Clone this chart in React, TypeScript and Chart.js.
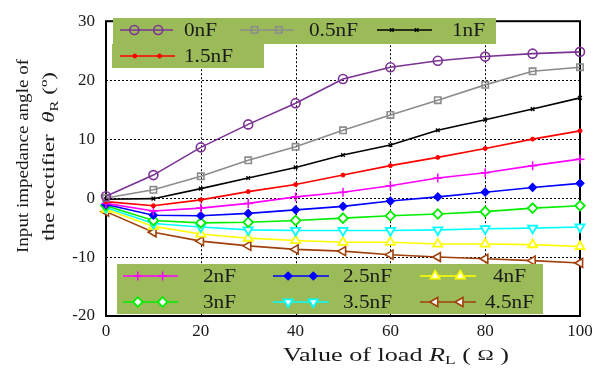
import React, { useEffect, useRef } from "react";
import { Chart, registerables } from "chart.js";
import { drawPoint } from "chart.js/helpers";

Chart.register(...registerables);

// Load resistance R_L (Ω)
const loadValues = [0, 10, 20, 30, 40, 50, 60, 70, 80, 90, 100];

// Input impedance angle θ_R (°) for each compensation capacitance
const angle0nF = [0.3, 3.9, 8.6, 12.5, 16.1, 20.2, 22.2, 23.3, 24.0, 24.5, 24.8];
const angle05nF = [0.0, 1.4, 3.7, 6.4, 8.7, 11.5, 14.1, 16.6, 19.2, 21.5, 22.2];
const angle1nF = [-0.2, -0.1, 1.6, 3.4, 5.2, 7.3, 9.0, 11.5, 13.3, 15.1, 17.0];
const angle15nF = [-0.6, -1.3, -0.3, 1.1, 2.3, 3.9, 5.5, 6.9, 8.4, 10.0, 11.4];
const angle2nF = [-0.9, -2.2, -1.7, -0.9, 0.2, 1.0, 2.1, 3.4, 4.3, 5.5, 6.6];
const angle25nF = [-1.1, -2.9, -3.0, -2.6, -2.0, -1.4, -0.5, 0.2, 1.0, 1.8, 2.5];
const angle3nF = [-1.3, -3.8, -4.2, -4.1, -3.8, -3.4, -3.0, -2.7, -2.3, -1.7, -1.3];
const angle35nF = [-1.6, -4.3, -4.9, -5.4, -5.5, -5.5, -5.5, -5.4, -5.2, -5.1, -4.9];
const angle4nF = [-1.9, -4.8, -6.1, -6.8, -7.2, -7.5, -7.5, -7.8, -7.8, -7.9, -8.2];
const angle45nF = [-2.3, -5.8, -7.3, -8.1, -8.7, -9.0, -9.6, -10.0, -10.3, -10.6, -11.0];

const seriesLabels = ["0nF", "0.5nF", "1nF", "1.5nF", "2nF", "2.5nF", "3nF", "3.5nF", "4nF", "4.5nF"];
const seriesValues = [angle0nF, angle05nF, angle1nF, angle15nF, angle2nF, angle25nF, angle3nF, angle35nF, angle4nF, angle45nF];

const xTicks = [0, 20, 40, 60, 80, 100];
const yTicks = [-20, -10, 0, 10, 20, 30];

const SERIF = "'Liberation Serif', 'DejaVu Serif Condensed', 'DejaVu Serif', serif";
const LEGEND_BG = "#9BBB59";
const TEXT = "#1a1a1a";

type Marker = { color: string; style: string; radius: number; rotation: number; fill: string; bw: number };

const markers: Marker[] = [
  { color: "#7B3294", style: "circle", radius: 4.5, rotation: 0, fill: "rgba(0,0,0,0)", bw: 1.6 },
  { color: "#8C8C8C", style: "rect", radius: 4.5, rotation: 0, fill: "rgba(0,0,0,0)", bw: 1.6 },
  { color: "#000000", style: "crossRot", radius: 2.6, rotation: 0, fill: "#000000", bw: 1.4 },
  { color: "#FF0000", style: "circle", radius: 2.0, rotation: 0, fill: "#FF0000", bw: 1 },
  { color: "#FF00FF", style: "cross", radius: 4.5, rotation: 0, fill: "#FF00FF", bw: 1.5 },
  { color: "#0000FF", style: "rectRot", radius: 4, rotation: 0, fill: "#0000FF", bw: 1.2 },
  { color: "#00EE00", style: "rectRot", radius: 4.8, rotation: 0, fill: "#FFFFFF", bw: 1.8 },
  { color: "#00FFFF", style: "triangle", radius: 5.2, rotation: 180, fill: "#FFFFFF", bw: 1.8 },
  { color: "#FFFF00", style: "triangle", radius: 5.2, rotation: 0, fill: "#FFFFFF", bw: 1.8 },
  { color: "#A0400A", style: "triangle", radius: 5.2, rotation: -90, fill: "#FFFFFF", bw: 1.6 },
];

// legend slots: [row y, line start, line end, text x]
const legendSlots: [number, number, number, number][] = [
  [30, 120, 173, 184],
  [30, 240, 294, 309],
  [30, 377, 432, 452],
  [56, 120, 175, 184],
  [276, 123, 178, 203],
  [276, 273, 329, 343],
  [276, 420, 476, 493],
  [302, 123, 178, 203],
  [302, 273, 329, 343],
  [302, 420, 476, 485],
];
// series index shown in each slot
const legendOrder = [0, 1, 2, 3, 4, 5, 8, 6, 7, 9];

function drawMarker(ctx: CanvasRenderingContext2D, m: Marker, x: number, y: number) {
  ctx.save();
  ctx.strokeStyle = m.color;
  ctx.fillStyle = m.fill;
  ctx.lineWidth = m.bw;
  drawPoint(ctx, { pointStyle: m.style as any, radius: m.radius, rotation: m.rotation, borderWidth: m.bw } as any, x, y);
  ctx.restore();
}

type Seg = { t: string; font: string; dy?: number };

function segWidth(ctx: CanvasRenderingContext2D, segs: Seg[]) {
  let w = 0;
  for (const s of segs) {
    ctx.font = s.font;
    w += ctx.measureText(s.t).width;
  }
  return w;
}

function drawSegs(ctx: CanvasRenderingContext2D, segs: Seg[], x: number, y: number) {
  let cx = x;
  for (const s of segs) {
    ctx.font = s.font;
    ctx.fillText(s.t, cx, y + (s.dy || 0));
    cx += ctx.measureText(s.t).width;
  }
}

// draw a run of text squeezed/stretched to a given length, starting at (x, y) in the current frame
function drawFitted(ctx: CanvasRenderingContext2D, segs: Seg[], x: number, y: number, length: number) {
  const w = segWidth(ctx, segs);
  ctx.save();
  ctx.translate(x, y);
  ctx.scale(length / w, 1);
  drawSegs(ctx, segs, 0, 0);
  ctx.restore();
}

const framePlugin = {
  id: "frameAndGrid",
  beforeDatasetsDraw(chart: any) {
    const { ctx, chartArea: a, scales } = chart;
    ctx.save();
    ctx.strokeStyle = "#000";
    ctx.lineWidth = 1;
    ctx.setLineDash([2, 2]);
    for (const v of xTicks.slice(1, -1)) {
      const px = Math.round(scales.x.getPixelForValue(v)) + 0.5;
      ctx.beginPath();
      ctx.moveTo(px, a.top);
      ctx.lineTo(px, a.bottom);
      ctx.stroke();
    }
    for (const v of yTicks.slice(1, -1)) {
      const py = Math.round(scales.y.getPixelForValue(v)) + 0.5;
      ctx.beginPath();
      ctx.moveTo(a.left, py);
      ctx.lineTo(a.right, py);
      ctx.stroke();
    }
    ctx.setLineDash([]);
    ctx.lineWidth = 2;
    ctx.strokeRect(a.left, a.top, a.right - a.left, a.bottom - a.top);
    ctx.restore();
  },
  afterDatasetsDraw(chart: any) {
    const { ctx } = chart;
    ctx.save();
    // legend panels
    ctx.fillStyle = LEGEND_BG;
    ctx.fillRect(113, 18, 383, 26);
    ctx.fillRect(112, 44, 152, 24);
    ctx.fillRect(117, 264, 426, 50);

    ctx.font = `18px ${SERIF}`;
    const legendScale = 49 / ctx.measureText("0.5nF").width;

    legendSlots.forEach((slot, i) => {
      const idx = legendOrder[i];
      const m = markers[idx];
      const [y, x1, x2, tx] = slot;
      ctx.strokeStyle = m.color;
      ctx.lineWidth = 1.6;
      ctx.beginPath();
      ctx.moveTo(x1, y);
      ctx.lineTo(x2, y);
      ctx.stroke();
      const len = x2 - x1;
      drawMarker(ctx, m, x1 + 0.27 * len, y);
      drawMarker(ctx, m, x1 + 0.72 * len, y);
      ctx.save();
      ctx.fillStyle = TEXT;
      ctx.font = `18px ${SERIF}`;
      ctx.textBaseline = "middle";
      ctx.textAlign = "left";
      ctx.translate(tx, y + 1);
      ctx.scale(legendScale, 1);
      ctx.fillText(seriesLabels[idx], 0, 0);
      ctx.restore();
    });

    // y axis title (two rotated lines)
    ctx.fillStyle = TEXT;
    ctx.textBaseline = "alphabetic";
    ctx.textAlign = "left";
    const line1: Seg[] = [{ t: "Input impedance angle of", font: `17px ${SERIF}` }];
    const line2: Seg[] = [
      { t: "the rectifier  ", font: `17px ${SERIF}` },
      { t: "θ", font: `italic 17px ${SERIF}` },
      { t: "R", font: `12px ${SERIF}`, dy: 4 },
      { t: " (", font: `17px ${SERIF}` },
      { t: "o", font: `11px ${SERIF}`, dy: -7 },
      { t: ")", font: `17px ${SERIF}` },
    ];
    ctx.save();
    ctx.translate(28, 0);
    ctx.rotate(-Math.PI / 2);
    drawFitted(ctx, line1, -253, 0, 194);
    ctx.restore();
    ctx.save();
    ctx.translate(54, 0);
    ctx.rotate(-Math.PI / 2);
    drawFitted(ctx, line2, -241, 0, 169);
    ctx.restore();

    // x axis title
    const xt: Seg[] = [
      { t: "Value of load ", font: `18px ${SERIF}` },
      { t: "R", font: `italic 18px ${SERIF}` },
      { t: "L", font: `12px ${SERIF}`, dy: 3 },
      { t: " ( ", font: `18px ${SERIF}` },
      { t: "Ω", font: `15px ${SERIF}`, dy: -1 },
      { t: " )", font: `18px ${SERIF}` },
    ];
    drawFitted(ctx, xt, 283, 361, 226);
    ctx.restore();
  },
};

export default function App() {
  const ref = useRef<HTMLCanvasElement | null>(null);

  useEffect(() => {
    document.body.style.margin = "0";
    const canvas = ref.current;
    if (!canvas) return;
    const datasets = seriesValues.map((vals, i) => {
      const m = markers[i];
      return {
        label: seriesLabels[i],
        data: loadValues.map((x, j) => ({ x, y: vals[j] })),
        borderColor: m.color,
        backgroundColor: m.color,
        borderWidth: 1.6,
        pointStyle: m.style,
        pointRadius: m.radius,
        pointRotation: m.rotation,
        pointBackgroundColor: m.fill,
        pointBorderColor: m.color,
        pointBorderWidth: m.bw,
        tension: 0,
        clip: false as any,
      };
    });
    const chart = new Chart(canvas, {
      type: "line",
      data: { datasets: datasets as any },
      options: {
        responsive: false,
        animation: false,
        devicePixelRatio: 1,
        layout: { padding: { top: 14, right: 23, left: 0, bottom: 0 } },
        plugins: { legend: { display: false }, tooltip: { enabled: false } },
        scales: {
          x: {
            type: "linear",
            min: 0,
            max: 100,
            grid: { display: false, drawTicks: false },
            border: { display: false },
            afterBuildTicks: (s: any) => {
              s.ticks = xTicks.map((v) => ({ value: v }));
            },
            afterFit: (s: any) => {
              s.height = 53;
            },
            ticks: {
              padding: 5,
              color: TEXT,
              font: { family: SERIF, size: 17 },
            },
          },
          y: {
            type: "linear",
            min: -20,
            max: 30,
            grid: { display: false, drawTicks: false },
            border: { display: false },
            afterBuildTicks: (s: any) => {
              s.ticks = yTicks.map((v) => ({ value: v }));
            },
            afterFit: (s: any) => {
              s.width = 106;
            },
            ticks: {
              padding: 11,
              color: TEXT,
              font: { family: SERIF, size: 17 },
            },
          },
        },
      },
      plugins: [framePlugin],
    });
    return () => chart.destroy();
  }, []);

  return <canvas ref={ref} width={603} height={369} style={{ display: "block" }} />;
}
